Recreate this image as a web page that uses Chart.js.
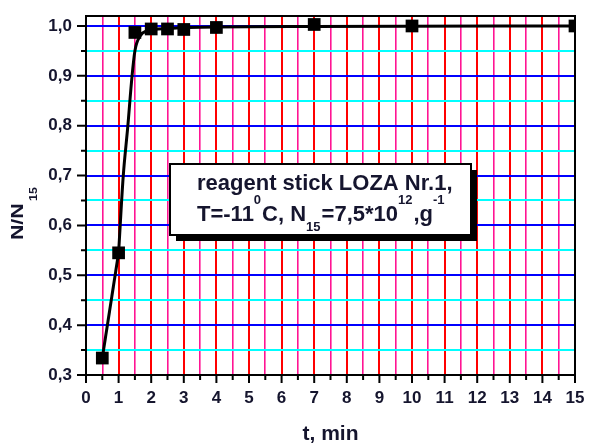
<!DOCTYPE html>
<html>
<head>
<meta charset="utf-8">
<script src="https://cdn.jsdelivr.net/npm/chart.js@4/dist/chart.umd.min.js"></script>
<style>
  html, body { margin: 0; padding: 0; background: #fff; }
  #wrap { width: 589px; height: 443px; position: relative; }
</style>
</head>
<body>
<div id="wrap"><canvas id="ratioChart"></canvas></div>
<script>
  // measured points (markers)
  const tValues = [0.5, 1, 1.5, 2, 2.5, 3, 4, 7, 10, 15];
  const ratioValues = [0.334, 0.545, 0.987, 0.994, 0.994, 0.993, 0.997, 1.003, 1.0, 1.0];

  // fitted curve: straight start, then a bend up to the plateau
  const startT = [0.5, 1];
  const startRatio = [0.334, 0.545];
  const fitT = [1, 1.14, 1.28, 1.41, 1.5, 1.66, 1.86, 2.5, 4, 7, 15];
  const fitRatio = [0.545, 0.697, 0.797, 0.898, 0.95, 0.98, 0.99, 0.995, 0.998, 0.999, 1.0];

  // tick labels
  const xTickLabels = ["0", "1", "2", "3", "4", "5", "6", "7", "8", "9", "10", "11", "12", "13", "14", "15"];
  const yTickLabels = ["0,3", "0,4", "0,5", "0,6", "0,7", "0,8", "0,9", "1,0"];

  const inkColor = "#15152e";
  const fontFamily = "'Liberation Sans', Arial, sans-serif";
  const isWhole = (v, step) => Math.abs(v / step - Math.round(v / step)) < 1e-6;

  // frame, tick marks, titles and the note box
  const decorations = {
    id: "decorations",
    beforeDatasetsDraw(chart) {
      const { ctx, chartArea: a } = chart;
      ctx.save();
      ctx.strokeStyle = "#000";
      ctx.lineWidth = 2;
      ctx.strokeRect(a.left, a.top, a.right - a.left, a.bottom - a.top);

      const xs = chart.scales.x, ys = chart.scales.y;
      ctx.beginPath();
      xs.ticks.forEach((t) => {
        const px = xs.getPixelForValue(t.value);
        ctx.moveTo(px, a.bottom);
        ctx.lineTo(px, a.bottom + (isWhole(t.value, 1) ? 8 : 5));
      });
      ys.ticks.forEach((t) => {
        const py = ys.getPixelForValue(t.value);
        ctx.moveTo(a.left, py);
        ctx.lineTo(a.left - (isWhole(t.value, 0.1) ? 9 : 5), py);
      });
      ctx.stroke();
      ctx.restore();
    },
    afterDatasetsDraw(chart) {
      const { ctx, chartArea: a } = chart;
      ctx.save();
      ctx.fillStyle = inkColor;

      // x title
      ctx.font = "bold 21px " + fontFamily;
      ctx.textAlign = "center";
      ctx.textBaseline = "alphabetic";
      ctx.fillText("t, min", (a.left + a.right) / 2, 440);

      // y title N/N15
      ctx.save();
      ctx.translate(23, 240);
      ctx.rotate(-Math.PI / 2);
      ctx.textAlign = "left";
      ctx.scale(1.25, 1);
      ctx.font = "bold 17px " + fontFamily;
      ctx.fillText("N/N", 0, 0);
      const nw = ctx.measureText("N/N").width;
      ctx.font = "bold 10px " + fontFamily;
      ctx.fillText("15", nw + 2, 14);
      ctx.restore();

      // note box with shadow
      const bx = 170, by = 164, bw = 301, bh = 71;
      ctx.fillStyle = "#000";
      ctx.fillRect(bx + 6, by + 6, bw, bh);
      ctx.fillStyle = "#fff";
      ctx.fillRect(bx, by, bw, bh);
      ctx.strokeStyle = "#000";
      ctx.lineWidth = 2;
      ctx.strokeRect(bx, by, bw, bh);

      ctx.fillStyle = inkColor;
      ctx.textAlign = "left";
      const big = "bold 22px " + fontFamily;
      const small = "bold 13px " + fontFamily;
      ctx.font = big;
      ctx.fillText("reagent stick LOZA Nr.1,", 197, 190);

      const parts = [
        ["T=-11", big, 0], ["0", small, -17], ["C, N", big, 0], ["15", small, 10],
        ["=7,5*10", big, 0], ["12", small, -17], [",g", big, 0], ["-1", small, -17],
      ];
      let x = 197;
      parts.forEach(([txt, font, dy]) => {
        ctx.font = font;
        ctx.fillText(txt, x, 221 + dy);
        x += ctx.measureText(txt).width + (font === small ? 1 : 0);
      });
      ctx.restore();
    },
  };

  const ctx = document.getElementById("ratioChart").getContext("2d");
  const ratioChart = new Chart(ctx, {
    type: "line",
    data: {
      datasets: [
        {
          label: "start",
          data: startT.map((t, i) => ({ x: t, y: startRatio[i] })),
          borderColor: "#000",
          borderWidth: 3,
          pointRadius: 0,
          tension: 0,
          fill: false,
        },
        {
          label: "fit",
          data: fitT.map((t, i) => ({ x: t, y: fitRatio[i] })),
          borderColor: "#000",
          borderWidth: 3,
          pointRadius: 0,
          cubicInterpolationMode: "monotone",
          fill: false,
        },
        {
          label: "N/N15",
          data: tValues.map((t, i) => ({ x: t, y: ratioValues[i] })),
          showLine: false,
          clip: 0,
          pointStyle: "rect",
          pointRadius: 9,
          pointBackgroundColor: "#000",
          pointBorderColor: "#000",
          pointBorderWidth: 0,
        },
      ],
    },
    options: {
      responsive: true,
      maintainAspectRatio: false,
      animation: false,
      layout: { padding: { top: 16, right: 14, left: 0, bottom: 0 } },
      plugins: {
        legend: { display: false },
        tooltip: { enabled: false },
      },
      scales: {
        x: {
          type: "linear",
          min: 0,
          max: 15,
          afterFit: (s) => {
            s.height = 68;
            s.paddingLeft = 0;
            s.paddingRight = 0;
          },
          border: { display: false },
          grid: {
            drawTicks: false,
            color: (c) => (isWhole(c.tick.value, 1) ? "#ff0000" : "#ff1493"),
            lineWidth: (c) => (isWhole(c.tick.value, 1) ? 2 : 1.6),
          },
          ticks: {
            stepSize: 0.5,
            autoSkip: false,
            maxRotation: 0,
            padding: 13,
            color: inkColor,
            font: { family: fontFamily, size: 17, weight: "bold" },
            callback: (v) => (isWhole(v, 1) ? xTickLabels[Math.round(v)] : ""),
          },
        },
        y: {
          min: 0.3,
          max: 1.02,
          afterFit: (s) => {
            s.width = 86;
            s.paddingTop = 0;
            s.paddingBottom = 0;
          },
          border: { display: false },
          grid: {
            drawTicks: false,
            color: (c) => (isWhole(c.tick.value, 0.1) ? "#0000ff" : "#00ffff"),
            lineWidth: 2,
          },
          ticks: {
            stepSize: 0.05,
            includeBounds: false,
            autoSkip: false,
            padding: 14,
            color: inkColor,
            font: { family: fontFamily, size: 17, weight: "bold" },
            callback: (v) => (isWhole(v, 0.1) ? yTickLabels[Math.round(v * 10) - 3] : ""),
          },
        },
      },
    },
    plugins: [decorations],
  });
</script>
</body>
</html>
